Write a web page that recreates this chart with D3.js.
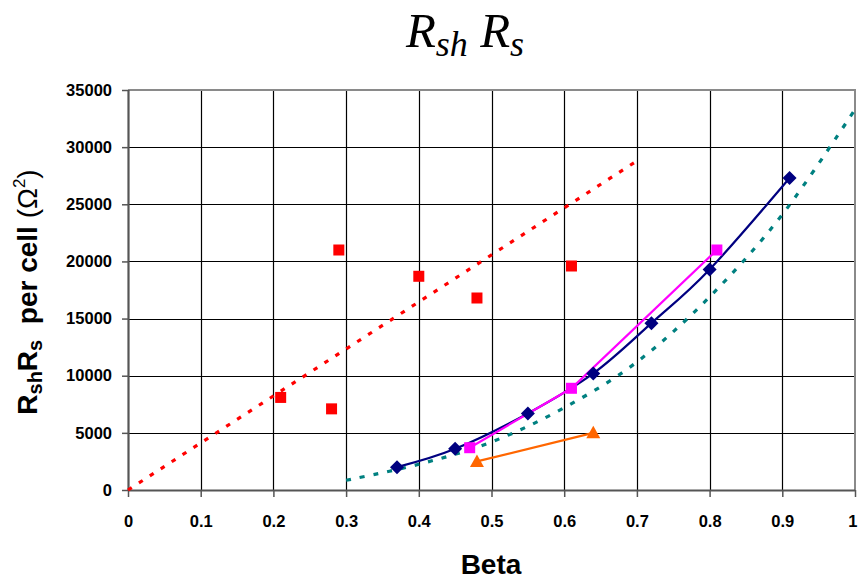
<!DOCTYPE html>
<html><head><meta charset="utf-8">
<script src="https://cdn.jsdelivr.net/npm/d3@7"></script>
<style>body{margin:0;background:#fff}svg{display:block}</style>
</head><body>
<svg id="c" width="858" height="581"></svg>
<script>
const xTicks = [0,0.1,0.2,0.3,0.4,0.5,0.6,0.7,0.8,0.9,1];
const yTicks = [0,5000,10000,15000,20000,25000,30000,35000];
const redBeta = [0.21,0.28,0.29,0.40,0.48,0.61];
const redVal  = [8100,7100,21000,18700,16800,19600];
const redTrendBeta = [0,0.7];
const redTrendVal  = [0,28800];
const navyBeta = [0.37,0.45,0.55,0.64,0.72,0.80,0.91];
const navyVal  = [2000,3600,6700,10200,14600,19300,27300];
const magBeta = [0.47,0.61,0.81];
const magVal  = [3700,8900,21000];
const orangeBeta = [0.48,0.64];
const orangeVal  = [2500,5000];
const tealBeta = [0.3,0.4,0.5,0.6,0.7,0.8,0.9,1.0];
const tealVal  = [850,2250,4200,7200,11200,16900,24100,33300];

const L=128,R=855,T=90,B=490;
const svg=d3.select("#c");
const x=d3.scaleLinear().domain([0,1]).range([L,R]);
const y=d3.scaleLinear().domain([0,35000]).range([B,T]);
const zip=(a,b)=>a.map((v,i)=>[v,b[i]]);

// gridlines
svg.append("g").selectAll("line").data(xTicks.slice(1,-1)).join("line")
 .attr("x1",d=>Math.round(x(d))+0.5).attr("x2",d=>Math.round(x(d))+0.5).attr("y1",T).attr("y2",B)
 .attr("stroke","#000").attr("stroke-width",1.2);
svg.append("g").selectAll("line").data(yTicks.slice(1,-1)).join("line")
 .attr("y1",d=>Math.round(y(d))+0.5).attr("y2",d=>Math.round(y(d))+0.5).attr("x1",L).attr("x2",R)
 .attr("stroke","#000").attr("stroke-width",1.2);
// border top/right
svg.append("path").attr("d",`M${L},${T}H${R}V${B}`).attr("fill","none").attr("stroke","#8a8a8a").attr("stroke-width",2);

// axes
const ax=svg.append("g").attr("transform",`translate(0,${B})`)
 .call(d3.axisBottom(x).tickValues(xTicks).tickSize(7).tickPadding(18).tickFormat(d=>d3.format("")(d)));
const ay=svg.append("g").attr("transform",`translate(${L},0)`)
 .call(d3.axisLeft(y).tickValues(yTicks).tickSize(6).tickPadding(10).tickFormat(d=>d));
[ax,ay].forEach(g=>{
 g.select(".domain").attr("stroke","#555").attr("stroke-width",2.2);
 g.selectAll(".tick line").attr("stroke","#555").attr("stroke-width",1.5);
 g.selectAll(".tick text").attr("fill","#000").attr("font-family","Arial, 'Liberation Sans', sans-serif")
  .attr("font-weight","bold").attr("font-size","16.5px");
});
ax.select(".domain").attr("d",`M${L},0.5H${R}`);
ay.select(".domain").attr("d",`M0.5,${B}V${T}`);
// last x label sits at the edge as in the reference; keep it inside the canvas
ax.selectAll(".tick text").filter(d=>d===1).attr("text-anchor","end").attr("dx","2px");

// red trend dotted
svg.append("path").datum(zip(redTrendBeta,redTrendVal))
 .attr("d",d3.line().x(d=>x(d[0])).y(d=>y(d[1])))
 .attr("fill","none").attr("stroke","#ff0000").attr("stroke-width",3.2).attr("stroke-dasharray","4.5,8.5");
// teal trend dotted
svg.append("path").datum(zip(tealBeta,tealVal))
 .attr("d",d3.line().x(d=>x(d[0])).y(d=>y(d[1])).curve(d3.curveCardinal.tension(0)))
 .attr("fill","none").attr("stroke","#008080").attr("stroke-width",3.2).attr("stroke-dasharray","5,9");

// orange
svg.append("path").datum(zip(orangeBeta,orangeVal))
 .attr("d",d3.line().x(d=>x(d[0])).y(d=>y(d[1])))
 .attr("fill","none").attr("stroke","#ff6600").attr("stroke-width",2.2);
// navy smoothed
svg.append("path").datum(zip(navyBeta,navyVal))
 .attr("d",d3.line().x(d=>x(d[0])).y(d=>y(d[1])).curve(d3.curveCardinal.tension(0)))
 .attr("fill","none").attr("stroke","#000080").attr("stroke-width",2.2);
// magenta
svg.append("path").datum(zip(magBeta,magVal))
 .attr("d",d3.line().x(d=>x(d[0])).y(d=>y(d[1])))
 .attr("fill","none").attr("stroke","#ff00ff").attr("stroke-width",2.2);

// markers
svg.append("g").selectAll("rect").data(zip(redBeta,redVal)).join("rect")
 .attr("x",d=>x(d[0])-5.5).attr("y",d=>y(d[1])-5.5).attr("width",11).attr("height",11).attr("fill","#ff0000");
svg.append("g").selectAll("path").data(zip(navyBeta,navyVal)).join("path")
 .attr("d",d=>`M${x(d[0])},${y(d[1])-7}l7,7l-7,7l-7,-7z`).attr("fill","#000080");
svg.append("g").selectAll("rect").data(zip(magBeta,magVal)).join("rect")
 .attr("x",d=>x(d[0])-5.5).attr("y",d=>y(d[1])-5.5).attr("width",11).attr("height",11).attr("fill","#ff00ff");
svg.append("g").selectAll("path").data(zip(orangeBeta,orangeVal)).join("path")
 .attr("d",d=>`M${x(d[0])},${y(d[1])-7}l7,12.5l-14,0z`).attr("fill","#ff6600");

// title
const t=svg.append("text").attr("x",465).attr("y",47).attr("text-anchor","middle")
 .attr("font-family","'Liberation Serif','Times New Roman',serif").attr("font-style","italic").attr("font-size","49px");
t.append("tspan").text("R");
t.append("tspan").attr("font-size","36px").attr("dy",9).text("sh");
t.append("tspan").attr("dy",-9).text(" R");
t.append("tspan").attr("font-size","36px").attr("dy",9).text("s");

// x title
svg.append("text").attr("x",491).attr("y",574).attr("text-anchor","middle")
 .attr("font-family","Arial, 'Liberation Sans', sans-serif").attr("font-weight","bold").attr("font-size","28px").text("Beta");
// y title
const yt=svg.append("text").attr("transform","translate(37,292) rotate(-90)").attr("text-anchor","middle")
 .attr("font-family","Arial, 'Liberation Sans', sans-serif").attr("font-weight","bold").attr("font-size","28px");
yt.append("tspan").text("R");
yt.append("tspan").attr("font-size","20px").attr("dy",5).text("sh");
yt.append("tspan").attr("dy",-5).text("R");
yt.append("tspan").attr("font-size","20px").attr("dy",5).text("s");
yt.append("tspan").attr("dy",-5).text("\u00a0 per cell ");
yt.append("tspan").attr("font-weight","normal").text("(\u03a9");
yt.append("tspan").attr("font-weight","normal").attr("font-size","17px").attr("dy",-12).text("2");
yt.append("tspan").attr("font-weight","normal").attr("dy",12).text(")");
</script>
</body></html>
